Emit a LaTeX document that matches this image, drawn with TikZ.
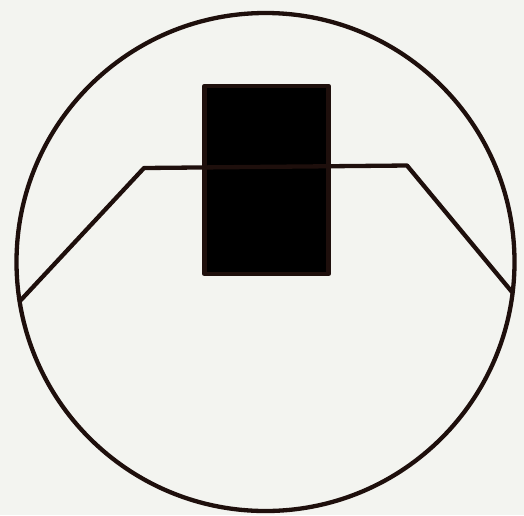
\documentclass[tikz,border=0pt]{standalone}
\begin{document}
\begin{tikzpicture}[x=1pt,y=-1pt,
  ink/.style={draw=inkc,line width=4.3pt,line join=round,line cap=round}]
\definecolor{inkc}{HTML}{1E0F0C}
\definecolor{bgc}{HTML}{F3F4F0}
\fill[bgc] (0,0) rectangle (524,515);
\useasboundingbox (0,0) rectangle (524,515);
\node[circle,ink,minimum size=498pt,inner sep=0pt] (ring) at (265.5,262) {};
\node[rectangle,ink,fill=black,minimum width=124pt,minimum height=188pt,inner sep=0pt] (block) at (266.5,180) {};
\coordinate (l) at (20,301);
\coordinate (lb) at (144,168);
\coordinate (rb) at (407,165.5);
\coordinate (r) at (512,292);
\draw[ink] (l) -- (lb) -- (rb) -- (r);
\end{tikzpicture}
\end{document}
